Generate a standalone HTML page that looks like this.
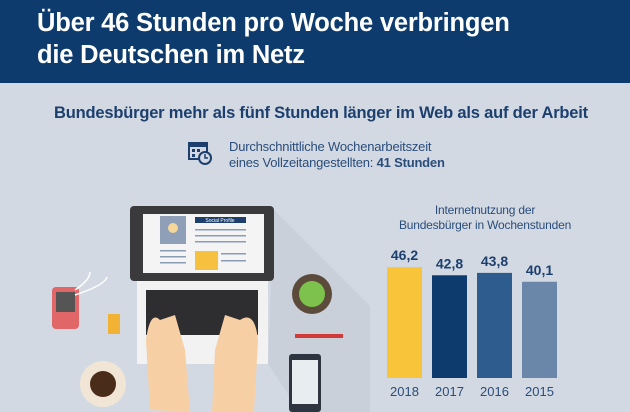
<!DOCTYPE html>
<html><head><meta charset="utf-8"><style>
body{margin:0;width:630px;height:412px;overflow:hidden;background:#d3d9e3;font-family:"Liberation Sans",sans-serif;position:relative}
.hdr{position:absolute;left:0;top:0;width:630px;height:83px;background:#0e3b6d}
.t{position:absolute;left:37px;color:#fff;font-weight:bold;font-size:25.5px;white-space:nowrap;letter-spacing:-0.2px}
</style></head><body>
<div class="hdr">
<div class="t" style="top:9px">Über 46 Stunden pro Woche verbringen</div>
<div class="t" style="top:41px">die Deutschen im Netz</div>
</div>
<div style="position:absolute;top:104px;left:0;width:642px;text-align:center;color:#1c3f6e;font-weight:bold;font-size:16.5px;letter-spacing:-0.2px">Bundesbürger mehr als fünf Stunden länger im Web als auf der Arbeit</div>
<svg width="24" height="26" style="position:absolute;left:188px;top:139px">
<rect x="1" y="4" width="18" height="16" fill="none" stroke="#1c3f6e" stroke-width="2"/><rect x="1" y="4" width="18" height="4" fill="#1c3f6e"/>
<rect x="4" y="10" width="3" height="3" fill="#1c3f6e"/><rect x="9" y="10" width="3" height="3" fill="#1c3f6e"/><rect x="4" y="15" width="3" height="3" fill="#1c3f6e"/>
<circle cx="17" cy="19" r="6" fill="#d3d9e3" stroke="#1c3f6e" stroke-width="2"/><path d="M17 15v4h3" stroke="#1c3f6e" stroke-width="1.5" fill="none"/></svg>
<div style="position:absolute;left:229px;top:139px;color:#2a4d7a;font-size:13px;line-height:16px;letter-spacing:-0.2px">Durchschnittliche Wochenarbeitszeit<br>eines Vollzeitangestellten: <b>41 Stunden</b></div>

<svg width="370" height="232" style="position:absolute;left:0;top:180px">
<polygon points="274,30 370,126 370,232 300,232 268,184" fill="#cad0da"/>
<rect x="130" y="26" width="144" height="75" rx="4" fill="#3a3a3c"/>
<rect x="143" y="34" width="121" height="59" fill="#f4f4f4"/>
<rect x="160" y="36" width="26" height="28" fill="#8f9fb8"/><circle cx="173" cy="48" r="5" fill="#f5d79a"/>
<rect x="195" y="37" width="51" height="6" fill="#1c3f6e"/><text x="220" y="42" font-size="5" fill="#fff" text-anchor="middle" font-family="Liberation Sans">Social Profile</text>
<rect x="195" y="71" width="23" height="19" fill="#f6c13e"/>
<g fill="#8a9cb6"><rect x="195" y="49" width="51" height="1.5"/><rect x="195" y="55" width="51" height="1.5"/><rect x="195" y="61" width="51" height="1.5"/><rect x="221" y="73" width="25" height="1.5"/><rect x="221" y="80" width="25" height="1.5"/><rect x="160" y="70" width="26" height="1.5"/><rect x="160" y="76" width="26" height="1.5"/><rect x="160" y="82" width="26" height="1.5"/></g>
<rect x="137" y="101" width="131" height="83" fill="#f2f2f2"/>
<rect x="146" y="110" width="112" height="45" fill="#2e2e30"/>
<path d="M150 230 L146 160 Q150 130 160 140 L175 135 L185 170 L190 232Z" fill="#f6cfa4"/>
<path d="M212 232 L215 170 L225 135 L240 140 Q255 130 258 160 L254 232Z" fill="#f6cfa4"/>
<rect x="52" y="107" width="27" height="42" rx="4" fill="#e06668"/><rect x="56" y="112" width="19" height="20" fill="#555"/>
<path d="M75 110 Q90 100 90 92 M75 115 Q105 105 107 97" stroke="#fff" stroke-width="1.5" fill="none"/>
<rect x="108" y="134" width="12" height="20" fill="#f2b233"/>
<circle cx="103" cy="204" r="23" fill="#f1e6d6"/><circle cx="103" cy="204" r="13" fill="#4a2c1a"/>
<circle cx="312" cy="114" r="20" fill="#5c4a3b"/><circle cx="312" cy="114" r="13" fill="#7cc24c"/>
<rect x="295" y="154" width="48" height="4" fill="#d33a3a"/>
<rect x="289" y="174" width="32" height="58" rx="3" fill="#2f3540"/><rect x="292" y="180" width="26" height="44" fill="#e8eef0"/>
</svg>

<div style="position:absolute;left:372px;top:203px;width:226px;text-align:center;color:#2a4d7a;font-size:12px;line-height:15px;letter-spacing:-0.2px">Internetnutzung der<br>Bundesbürger in Wochenstunden</div>
<svg id="chart" width="630" height="412" style="position:absolute;left:0;top:0"></svg>
<script>
const years=["2018","2017","2016","2015"];
const hours=[46.2,42.8,43.8,40.1];
const labels=["46,2","42,8","43,8","40,1"];
const colors=["#f8c53a","#0e3b6d","#2f5c8f","#6a87aa"];
const svg=document.getElementById('chart');const NS="http://www.w3.org/2000/svg";
const base=378,scale=2.4,x0=387,step=45,bw=35;
const y=v=>base-v*scale;
years.forEach((yr,i)=>{
 const x=x0+i*step;
 const r=document.createElementNS(NS,'rect');
 r.setAttribute('x',x);r.setAttribute('y',y(hours[i]));r.setAttribute('width',bw);r.setAttribute('height',base-y(hours[i]));r.setAttribute('fill',colors[i]);
 
 
 svg.appendChild(r);
 const t=document.createElementNS(NS,'text');
 t.setAttribute('x',x+bw/2);t.setAttribute('y',y(hours[i])-7);t.setAttribute('text-anchor','middle');t.setAttribute('font-size','14');t.setAttribute('font-weight','bold');t.setAttribute('fill','#1c3f6e');t.setAttribute('font-family','Liberation Sans');t.textContent=labels[i];
 
 
 svg.appendChild(t);
 const l=document.createElementNS(NS,'text');
 l.setAttribute('x',x+bw/2);l.setAttribute('y',396);l.setAttribute('text-anchor','middle');l.setAttribute('font-size','13');l.setAttribute('fill','#2a4d7a');l.setAttribute('font-family','Liberation Sans');l.textContent=yr;
 
 
 svg.appendChild(l);
});
</script>
</body></html>
